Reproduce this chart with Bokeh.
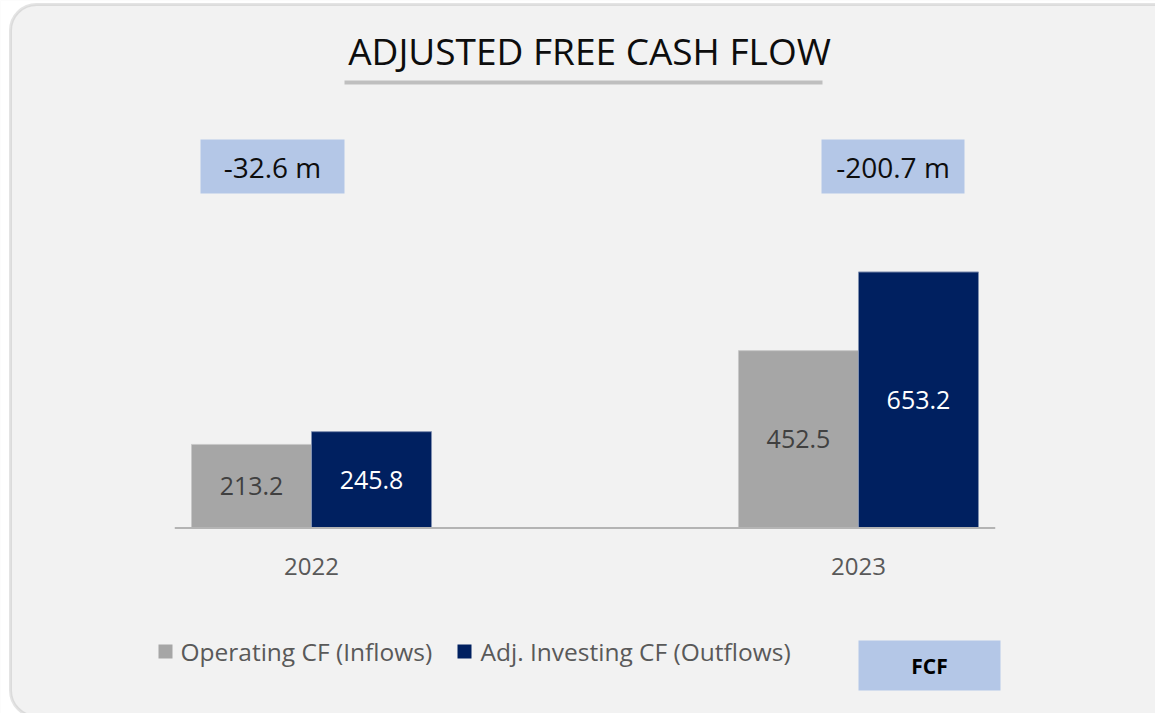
from bokeh.plotting import figure
from bokeh.models import Range1d, Label, BoxAnnotation, ColumnDataSource
from bokeh.core.properties import value
from bokeh.embed import file_html
from bokeh.resources import INLINE

# ---- data ----
years = ["2022", "2023"]
operating_cf = [213.2, 452.5]
adj_investing_cf = [245.8, 653.2]
fcf_labels = ["-32.6 m", "-200.7 m"]
series_names = ["Operating CF (Inflows)", "Adj. Investing CF (Outflows)"]
title_text = "ADJUSTED FREE CASH FLOW"

# ---- styling ----
GREY = "#A6A6A6"
NAVY = "#002060"
BOXBLUE = "#B4C7E7"
BG = "#F2F2F2"
FONT = "Open Sans"

W, H = 1155, 713
BAR_W = 0.2194

idx = list(range(len(years)))
src = ColumnDataSource(dict(
    x_op=[i - BAR_W / 2 for i in idx],
    x_inv=[i + BAR_W / 2 for i in idx],
    op=operating_cf,
    inv=adj_investing_cf,
    op_mid=[v / 2 for v in operating_cf],
    inv_mid=[v / 2 for v in adj_investing_cf],
    op_txt=[f"{v:.1f}" for v in operating_cf],
    inv_txt=[f"{v:.1f}" for v in adj_investing_cf],
    xi=idx,
    zero=[0] * len(idx),
    years=years,
))

p = figure(width=W, height=H,
           x_range=Range1d(-0.5686, 1.5430),
           y_range=Range1d(-473.2, 1345.7),
           output_backend="svg", toolbar_location=None,
           x_axis_location=None, y_axis_location=None,
           min_border=0, background_fill_color=BG, border_fill_color=BG,
           outline_line_color=None)
p.grid.visible = False


def sx(rx):
    return rx


def sy(ry):
    return H - ry


def box(l, r, t, b, **kw):
    return BoxAnnotation(left=sx(l), right=sx(r), top=sy(t), bottom=sy(b),
                         left_units="screen", right_units="screen",
                         bottom_units="screen", top_units="screen", **kw)


# white page corner outside the rounded frame
p.add_layout(BoxAnnotation(left=-50, right=W + 50, bottom=-50, top=H + 50,
                           left_units="screen", right_units="screen",
                           bottom_units="screen", top_units="screen",
                           fill_color="white", fill_alpha=1, line_color=None,
                           level="underlay"))
# outer rounded frame
p.add_layout(box(10, 1180, 4, 716, fill_color=BG, fill_alpha=1,
                 line_color="#A6A6A6", line_width=3, border_radius=26,
                 level="underlay"))

# bars
p.vbar(x="x_op", top="op", bottom=0, width=BAR_W, source=src,
       fill_color=GREY, line_color="#C8C8C8", line_width=1)
p.vbar(x="x_inv", top="inv", bottom=0, width=BAR_W, source=src,
       fill_color=NAVY, line_color="#8090B0", line_width=1)

# category axis line
p.segment(x0=[-0.25], y0=[0], x1=[1.25], y1=[0], line_color="#B4B4B4", line_width=2)

# value labels
p.text(x="x_op", y="op_mid", text="op_txt", source=src,
       text_align="center", text_baseline="middle",
       text_font=value(FONT), text_font_size="25px", text_color="#404040")
p.text(x="x_inv", y="inv_mid", text="inv_txt", source=src,
       text_align="center", text_baseline="middle",
       text_font=value(FONT), text_font_size="25px", text_color="white")

# year labels
p.text(x="xi", y="zero", text="years", source=src, y_offset=38,
       text_align="center", text_baseline="middle",
       text_font=value(FONT), text_font_size="24px", text_color="#595959")

# title + underline
p.add_layout(Label(x=sx(589), y=sy(50), x_units="screen", y_units="screen",
                   text=title_text, text_align="center", text_baseline="middle",
                   text_font=FONT, text_font_size="37px", text_color="#0D0D0D"))
p.add_layout(box(344, 822, 80, 84, fill_color="#BFBFBF", fill_alpha=1, line_color=None))

# FCF boxes
fcf_boxes = [(200, 344), (821, 964)]
for (l, r), txt in zip(fcf_boxes, fcf_labels):
    p.add_layout(box(l, r, 139, 193, fill_color=BOXBLUE, fill_alpha=1, line_color=None))
    p.add_layout(Label(x=sx((l + r) / 2), y=sy(166), x_units="screen", y_units="screen",
                       text=txt, text_align="center", text_baseline="middle",
                       text_font=FONT, text_font_size="28px", text_color="#0D0D0D"))

# legend
legend_items = [(158, 180, GREY, series_names[0]), (457, 480, NAVY, series_names[1])]
for sq_x, tx, col, name in legend_items:
    p.add_layout(box(sq_x, sq_x + 14, 644, 658, fill_color=col, fill_alpha=1, line_color=None))
    p.add_layout(Label(x=sx(tx), y=sy(651), x_units="screen", y_units="screen",
                       text=name, text_align="left", text_baseline="middle",
                       text_font=FONT, text_font_size="24.5px", text_color="#595959"))

# FCF legend box
p.add_layout(box(858, 1000, 640, 690, fill_color=BOXBLUE, fill_alpha=1, line_color=None))
p.add_layout(Label(x=sx(929), y=sy(665), x_units="screen", y_units="screen",
                   text="FCF", text_align="center", text_baseline="middle",
                   text_font=FONT, text_font_size="21px", text_font_style="bold",
                   text_color="#000000"))

open("out.html", "w").write(file_html(p, INLINE))
